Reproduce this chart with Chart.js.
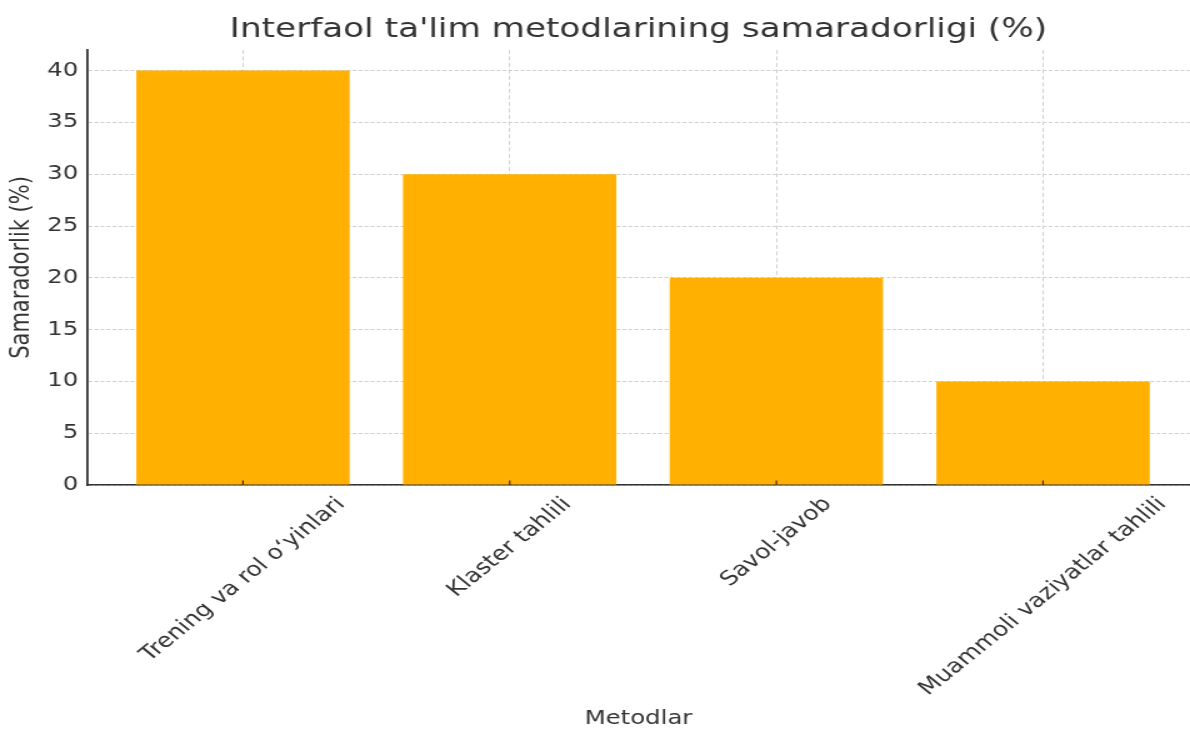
<!DOCTYPE html>
<html>
<head>
<meta charset="utf-8">
<title>Interfaol ta'lim metodlarining samaradorligi</title>
<script src="https://cdn.jsdelivr.net/npm/chart.js@4.4.1/dist/chart.umd.min.js"></script>
<style>
  html, body { margin: 0; padding: 0; background: #ffffff; }
</style>
</head>
<body>
<!-- the source picture is stretched sideways, so the canvas is drawn narrow and widened by css -->
<canvas id="chart" width="952" height="729" style="display:block;width:1190px;height:729px"></canvas>
<script>
const methods = [
  "Trening va rol oʻyinlari",
  "Klaster tahlili",
  "Savol-javob",
  "Muammoli vaziyatlar tahlili"
];
const effectiveness = [40, 30, 20, 10];
const yTicks = [0, 5, 10, 15, 20, 25, 30, 35, 40];

const TEXT_COLOR = '#333333';
const BAR_COLOR  = '#FFB000';
const GRID_COLOR = '#d0d0d0';

Chart.defaults.font.family = '"DejaVu Sans", sans-serif';
Chart.defaults.color = TEXT_COLOR;

// x tick labels: rotated 45deg and centred under the tick (matplotlib style)
const rotatedLabels = {
  id: 'rotatedLabels',
  afterDraw(chart) {
    const xScale = chart.scales.x;
    const ctx = chart.ctx;
    const size = 20;
    ctx.save();
    ctx.font = size + 'px "DejaVu Sans"';
    ctx.fillStyle = TEXT_COLOR;
    ctx.textAlign = 'center';
    ctx.textBaseline = 'middle';
    methods.forEach((label, i) => {
      const x = xScale.getPixelForValue(i);
      const w = ctx.measureText(label).width;
      const y = xScale.top + 9 + (w + size) / (2 * Math.SQRT2);
      ctx.save();
      ctx.translate(x, y);
      ctx.rotate(-Math.PI / 4);
      ctx.fillText(label, 0, 0);
      ctx.restore();
    });
    // small inward tick marks on the x axis
    ctx.strokeStyle = TEXT_COLOR;
    ctx.lineWidth = 1.2;
    methods.forEach((label, i) => {
      const x = xScale.getPixelForValue(i);
      ctx.beginPath();
      ctx.moveTo(x, xScale.top);
      ctx.lineTo(x, xScale.top - 4.5);
      ctx.stroke();
    });
    ctx.restore();
  }
};

const ctx = document.getElementById('chart').getContext('2d');
const chart = new Chart(ctx, {
  type: 'bar',
  data: {
    datasets: [{
      label: 'Samaradorlik (%)',
      data: effectiveness.map((v, i) => ({ x: i, y: v })),
      backgroundColor: BAR_COLOR,
      borderWidth: 0,
      barPercentage: 0.8,
      categoryPercentage: 1.0
    }]
  },
  options: {
    responsive: false,
    animation: false,
    devicePixelRatio: 1,
    layout: { padding: 0 },
    plugins: {
      legend: { display: false },
      tooltip: { enabled: false },
      title: {
        display: true,
        fullSize: false,
        text: "Interfaol ta'lim metodlarining samaradorligi (%)",
        color: TEXT_COLOR,
        font: { size: 27.4, weight: 'normal' },
        padding: { top: 13, bottom: 4 }
      }
    },
    scales: {
      x: {
        type: 'linear',
        offset: false,
        min: -0.585,
        max: 3.551,
        z: 1,
        afterBuildTicks: scale => {
          scale.ticks = methods.map((m, i) => ({ value: i }));
        },
        afterFit: scale => { scale.height = 244; },
        ticks: { display: false },
        grid: {
          offset: false,
          color: GRID_COLOR,
          lineWidth: 1,
          drawTicks: false
        },
        border: { display: true, color: TEXT_COLOR, width: 1.6, dash: [4, 2.5] },
        title: {
          display: true,
          text: 'Metodlar',
          color: TEXT_COLOR,
          font: { size: 19.5, lineHeight: 1 },
          padding: { top: 0, bottom: 0 }
        }
      },
      y: {
        min: 0,
        max: 42,
        z: 1,
        afterBuildTicks: scale => {
          scale.ticks = yTicks.map(v => ({ value: v }));
        },
        afterFit: scale => { scale.width = 69.6; },
        ticks: {
          padding: 7,
          color: TEXT_COLOR,
          font: { size: 19.5 }
        },
        grid: {
          color: GRID_COLOR,
          lineWidth: 1,
          drawTicks: false
        },
        border: { display: true, color: TEXT_COLOR, width: 1.8, dash: [3.2, 1.6] },
        title: {
          display: true,
          text: 'Samaradorlik (%)',
          color: TEXT_COLOR,
          font: { size: 21 },
          padding: { top: 5, bottom: 0 }
        }
      }
    }
  },
  plugins: [rotatedLabels]
});
</script>
</body>
</html>
